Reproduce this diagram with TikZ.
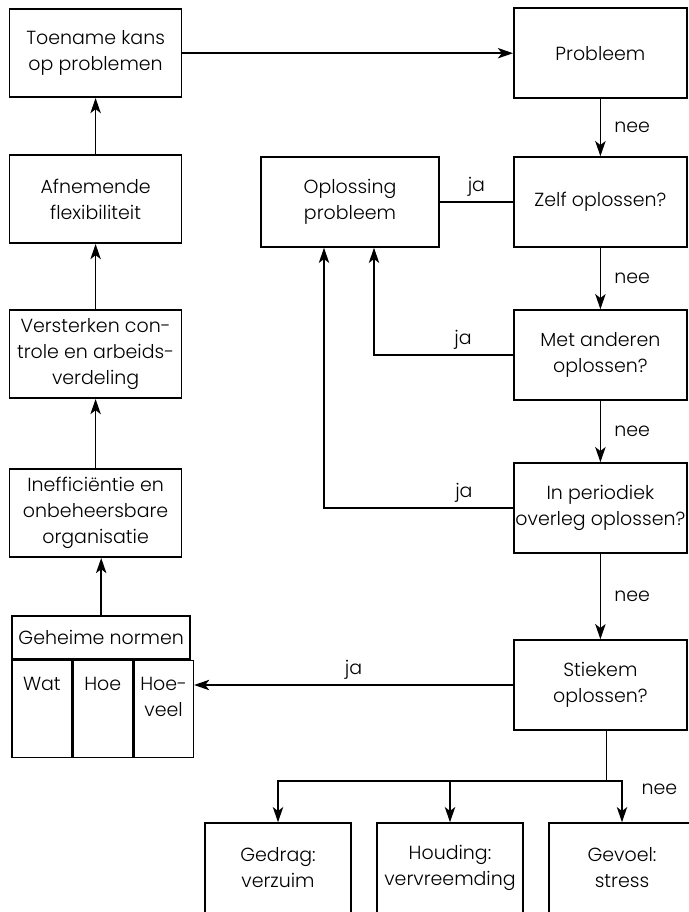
\documentclass[tikz,border=0pt]{standalone}
\usepackage{fontspec}
\setmainfont{Poppins}[UprightFont = * Light]
\usetikzlibrary{arrows.meta, positioning}

\begin{document}
\begin{tikzpicture}[node distance=2cm, auto, font=\fontsize{13.5}{18.5}\selectfont]
\tikzstyle{box} = [rectangle, draw=black, line width=1.1pt, align=center,
                   minimum width=4.3cm, minimum height=2.2cm]
\tikzstyle{rbox} = [box, minimum width=4.33cm, minimum height=2.25cm, inner xsep=1pt]
\tikzstyle{cell} = [rectangle, draw=black, line width=1.1pt,
                    minimum width=1.4833cm, minimum height=2.425cm]
\tikzstyle{arrow} = [line width=1.1pt, -{Stealth[length=3.8mm, width=2.6mm, inset=1mm]}]
\tikzstyle{line} = [line width=1.1pt]
\useasboundingbox (0,0) rectangle (17.2,-22.8);

% left column
\node[box] (toename) at (2.39,-1.33) {Toename kans\\op problemen};
\node[box, below of=toename, yshift=-1.65cm] (afnemende) {Afnemende\\flexibiliteit};
\node[box, below of=afnemende, yshift=-1.875cm] (versterken) {Versterken con-\\trole en arbeids-\\verdeling};
\node[box, below of=versterken, yshift=-1.975cm] (ineff) {Inefficiëntie en\\onbeheersbare\\organisatie};

% geheime normen
\node[box, minimum width=4.45cm, minimum height=1.075cm, below of=ineff,
      xshift=0.14cm, yshift=-1.11cm] (normen) {Geheime normen};
\node[cell, anchor=north west] (wat) at (normen.south west) {};
\node[cell, anchor=north west] (hoe) at (wat.north east) {};
\node[cell, anchor=north west] (hoeveel) at (hoe.north east) {};
\node[below=0.3cm of wat.north] (watlbl) {Wat};
\node[below=0.3cm of hoe.north] (hoelbl) {Hoe};
\node[below=0.3cm of hoeveel.north, align=center] (hoeveellbl) {Hoe-\\veel};

% right column
\node[rbox, right of=toename, xshift=10.62cm] (probleem) {Probleem};
\node[rbox, below of=probleem, yshift=-1.72cm] (zelf) {Zelf oplossen?};
\node[rbox, below of=zelf, yshift=-1.825cm] (anderen) {Met anderen\\oplossen?};
\node[rbox, below of=anderen, yshift=-1.825cm] (overleg) {In periodiek\\overleg oplossen?};
\node[rbox, below of=overleg, yshift=-2.425cm] (stiekem) {Stiekem\\oplossen?};

\node[box, minimum width=4.45cm, minimum height=2.25cm, left of=zelf,
      xshift=-4.26cm] (oplossing) {Oplossing\\probleem};

% gevolgen
\node[box, minimum width=3.65cm, minimum height=2.25cm, below of=stiekem,
      xshift=0.54cm, yshift=-2.575cm] (gevoel) {Gevoel:\\stress};
\node[box, minimum width=3.65cm, minimum height=2.25cm, left of=gevoel,
      xshift=-2.3cm] (houding) {Houding:\\vervreemding};
\node[box, minimum width=3.65cm, minimum height=2.25cm, left of=houding,
      xshift=-2.3cm] (gedrag) {Gedrag:\\verzuim};

% connectors
\draw[arrow] (toename) -- (probleem);
\draw[arrow] (afnemende) -- (toename);
\draw[arrow] (versterken) -- (afnemende);
\draw[arrow] (ineff) -- (versterken);
\draw[arrow] (normen.north) -- (normen.north |- ineff.south);

\draw[arrow] (probleem) -- node[right=6pt] {nee} (zelf);
\draw[arrow] (zelf) -- node[right=6pt] {nee} (anderen);
\draw[arrow] (anderen) -- node[right=6pt] {nee} (overleg);
\draw[arrow] (overleg) -- node[right=6pt] {nee} (stiekem);

\draw[line] (zelf) -- node[above] {ja} (oplossing);
\draw[arrow] (anderen.west) -| node[above, pos=0.18] {ja} ([xshift=0.6cm]oplossing.south);
\draw[arrow] (overleg.west) -| node[above, pos=0.13] {ja} ([xshift=-0.65cm]oplossing.south);
\draw[arrow] (stiekem.west) -- node[above] {ja} (stiekem.west -| hoeveel.east);

\draw[line] ([xshift=0.15cm]stiekem.south) -- ++(0,-1.25) coordinate (fork);
\draw[arrow] (fork) -| node[right=10pt, pos=0.6] {nee} (gevoel);
\draw[arrow] (fork) -| (gedrag);
\draw[arrow] (fork -| houding) -- (houding);
\end{tikzpicture}
\end{document}
